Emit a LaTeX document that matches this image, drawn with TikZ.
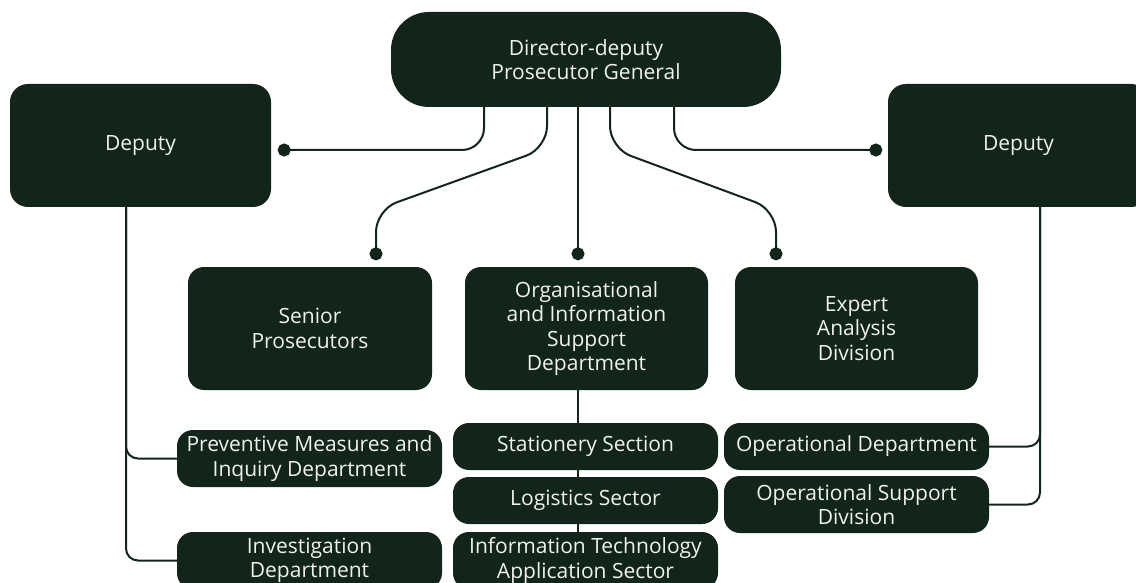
\documentclass[tikz,border=0pt]{standalone}
\usepackage{fontspec}
\setmainfont{Open Sans}
\usetikzlibrary{arrows.meta}
\definecolor{pine}{RGB}{18,37,27}
\definecolor{chalk}{RGB}{240,242,236}
\tikzset{
  unit/.style={fill=pine, text=chalk, align=center, inner sep=0pt,
    rounded corners=16pt, font=\fontsize{21}{24.5}\selectfont},
  link/.style={draw=pine, line width=2pt, rounded corners=22pt},
  pin/.style={-{Circle[length=13pt]}},
}
\begin{document}
\begin{tikzpicture}[x=1pt,y=-1pt]
      \clip (0,0) rectangle (1136,583);
      \coordinate (spine) at (578,0);
      \node[unit, minimum width=390pt, minimum height=95pt, rounded corners=38pt] (dir) at (586,59.5) {Director-deputy\\Prosecutor General};
      \node[unit, minimum width=261pt, minimum height=123pt, rounded corners=18pt] (depL) at (140.5,145.5) {Deputy};
      \node[unit, minimum width=261pt, minimum height=123pt, rounded corners=18pt] (depR) at (1018.5,145.5) {Deputy};
      \node[unit, minimum width=244pt, minimum height=123pt] (senior) at (310,328.5) {Senior\\Prosecutors};
      \node[unit, minimum width=243pt, minimum height=123pt] (org) at (586.5,328.5) {Organisational\\and Information\\Support\\Department};
      \node[unit, minimum width=243pt, minimum height=123pt] (expert) at (856.5,328.5) {Expert\\Analysis\\Division};
      \node[unit, minimum width=265pt, minimum height=57pt] (prev) at (309.5,458.5) {Preventive Measures and\\Inquiry Department};
      \node[unit, minimum width=265pt, minimum height=57pt] (invest) at (309.5,560.5) {Investigation\\Department};
      \node[unit, minimum width=265pt, minimum height=47pt] (stat) at (585.5,446.5) {Stationery Section};
      \node[unit, minimum width=265pt, minimum height=47pt] (logi) at (585.5,500.5) {Logistics Sector};
      \node[unit, minimum width=265pt, minimum height=57pt] (itapp) at (585.5,560.5) {Information Technology\\Application Sector};
      \node[unit, minimum width=265pt, minimum height=47pt] (opdep) at (856.5,446.5) {Operational Department};
      \node[unit, minimum width=265pt, minimum height=57pt] (opsup) at (856.5,504.5) {Operational Support\\Division};
      \begin{scope}[link]
        % from the director
        \draw[pin] ([xshift=-102pt]dir.south) |- ([xshift=6.5pt,yshift=-4.5pt]depL.east);
        \draw[pin] ([xshift=-39pt]dir.south) -- ++(0,41) -- ([xshift=66pt,yshift=57pt]senior.north) -- ([xshift=66pt,yshift=6.5pt]senior.north);
        \draw[pin] (dir.south -| spine) -- ([yshift=6.5pt]org.north -| spine);
        \draw[pin] ([xshift=24pt]dir.south) -- ++(0,41) -- ([xshift=-80.5pt,yshift=57pt]expert.north) -- ([xshift=-80.5pt,yshift=6.5pt]expert.north);
        \draw[pin] ([xshift=88pt]dir.south) |- ([xshift=-5.5pt,yshift=-4.5pt]depR.west);
        % support department
        \draw (org.south -| spine) -- (stat.north -| spine);
        \draw (stat.south -| spine) -- (logi.north -| spine);
        \draw (logi.south -| spine) -- (itapp.north -| spine);
        % deputies
        \draw[rounded corners=12pt] ([xshift=-14.5pt]depL.south) |- (prev.west);
        \draw[rounded corners=12pt] ([xshift=-14.5pt]depL.south) |- (invest.west);
        \draw[rounded corners=12pt] ([xshift=21.5pt]depR.south) |- (opdep.east);
        \draw[rounded corners=12pt] ([xshift=21.5pt]depR.south) |- (opsup.east);
      \end{scope}
    \end{tikzpicture}
\end{document}
